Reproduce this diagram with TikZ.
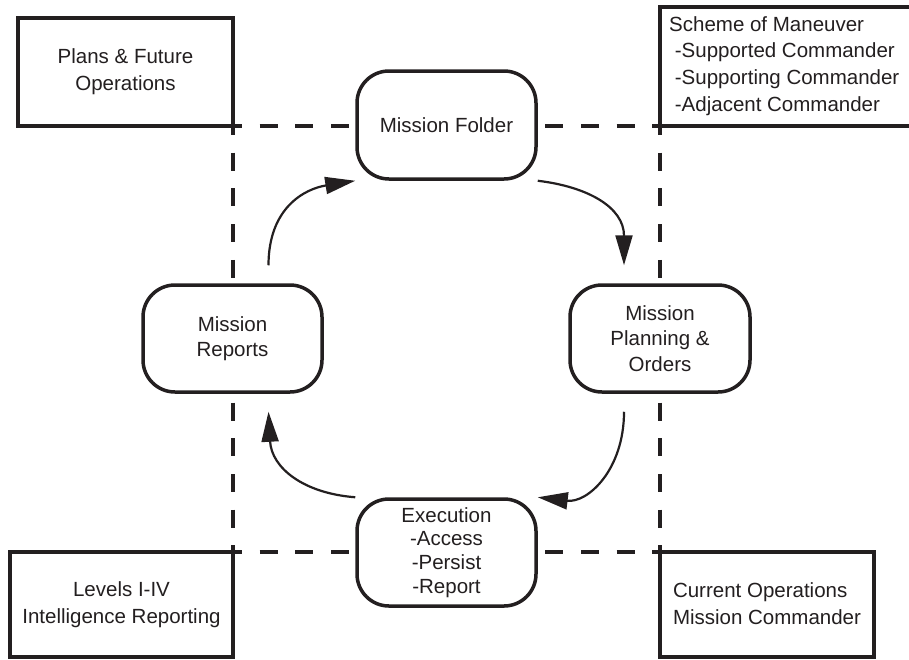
\documentclass[tikz,border=0pt]{standalone}
\usepackage{fontspec}
\setmainfont{Liberation Sans}
\usetikzlibrary{arrows.meta,calc}
\definecolor{ink}{HTML}{231F20}
\tikzset{
  sqbox/.style={draw=ink,line width=3.5pt,fill=white},
  rbox/.style={draw=ink,line width=3.5pt,fill=white,rounded corners=32pt,inner sep=0pt,align=center,text=ink},
  lbl/.style={text=ink,inner sep=0pt,font=\fontsize{20.5pt}{26.7pt}\selectfont},
  dashline/.style={draw=ink,line width=3.5pt,dash pattern=on 18pt off 17.7pt,dash phase=9pt},
  arr/.style={draw=ink,line width=2.2pt,-{Triangle[length=30pt,width=17pt]}},
}
\begin{document}
\begin{tikzpicture}[x=1pt,y=-1pt]
\useasboundingbox (0,0) rectangle (909,659);
\begin{scope}
\clip (0,0) rectangle (909,659);
% dashed frame
\coordinate (c1) at (233,126);
\coordinate (c2) at (660,126);
\coordinate (c3) at (660,552);
\coordinate (c4) at (233,552);
\draw[dashline] (c1) -- (c2);
\draw[dashline] (c4) -- (c3);
\draw[dashline] (c1) -- (c4);
\draw[dashline] (c2) -- (c3);
% corner boxes
\draw[sqbox] (18,18) rectangle (233,126);
\node[lbl,align=center] (plans) at (125.5,72) {Plans \& Future\\Operations};
\draw[sqbox] (660,7) rectangle (930,126);
\node[lbl,align=left,anchor=north west] (scheme) at (669,16) {Scheme of Maneuver\\\ -Supported Commander\\\ -Supporting Commander\\\ -Adjacent Commander};
\draw[sqbox] (10,552) rectangle (233,657);
\node[lbl,align=center] (levels) at (121.5,605) {Levels I-IV\\Intelligence Reporting};
\draw[sqbox] (660,552) rectangle (874,657);
\node[lbl,align=left] (current) at (767,604) {Current Operations\\Mission Commander};
% cycle nodes
\node[rbox,minimum width=179pt,minimum height=108pt,font=\fontsize{20.5pt}{25.5pt}\selectfont] (fold) at (446.5,125) {Mission Folder};
\node[rbox,minimum width=179pt,minimum height=107pt,font=\fontsize{20.5pt}{25.5pt}\selectfont] (rep) at (232.5,338.5) {Mission\\Reports};
\node[rbox,minimum width=180pt,minimum height=107pt,font=\fontsize{20.5pt}{25.5pt}\selectfont] (plan) at (660,338.5) {Mission\\Planning \&\\Orders};
\node[rbox,minimum width=179pt,minimum height=107pt,font=\fontsize{20.5pt}{23.7pt}\selectfont] (exec) at (446.5,552.5) {Execution\\-Access\\-Persist\\-Report};
% arrows
\draw[arr] ([xshift=36pt,yshift=18pt]rep.north) .. controls +(0pt,58pt) and +(-50pt,-8pt) .. (fold.south west);
\draw[arr] (fold.south east) .. controls +(50pt,-6pt) and +(0pt,58pt) .. ([xshift=-36pt,yshift=18pt]plan.north);
\draw[arr] ([xshift=-36pt,yshift=-18pt]plan.south) .. controls +(0pt,-58pt) and +(50pt,-6pt) .. (exec.north east);
\draw[arr] (exec.north west) .. controls +(-52pt,4pt) and +(3pt,-56pt) .. ([xshift=36pt,yshift=-18pt]rep.south);
\end{scope}
\end{tikzpicture}
\end{document}
